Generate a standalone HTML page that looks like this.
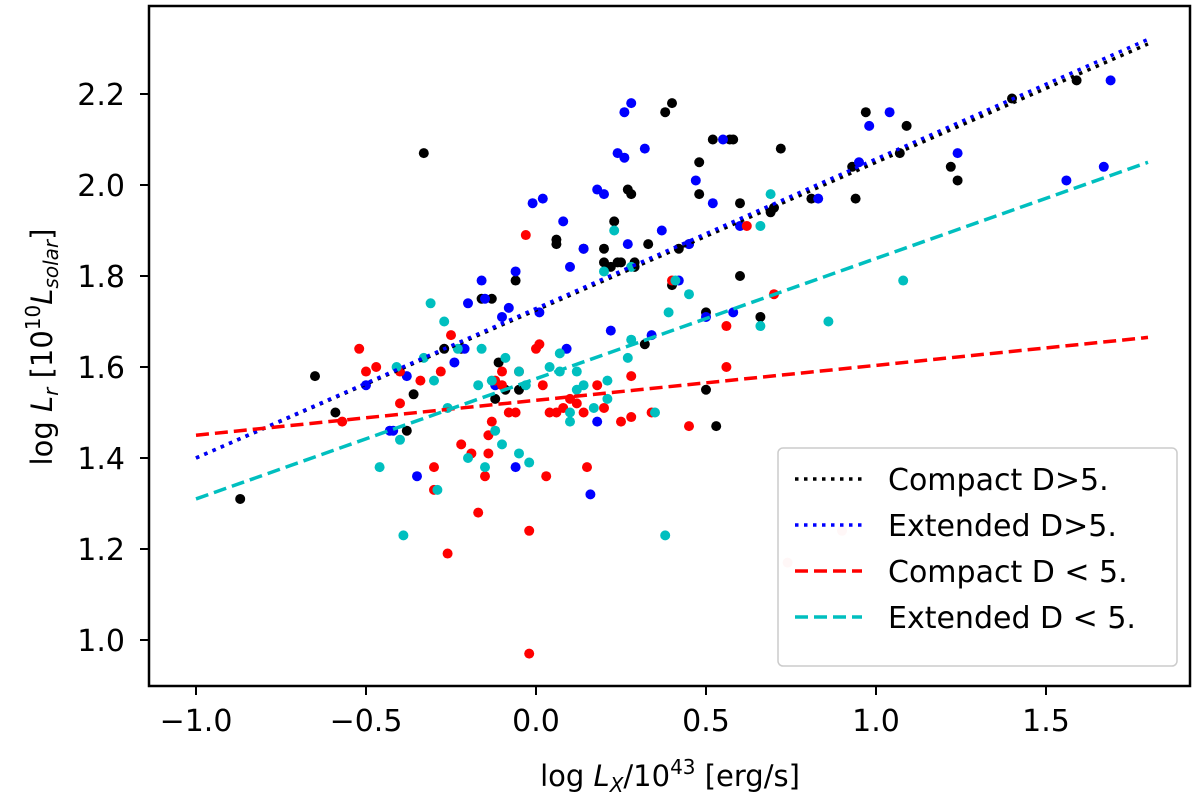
<!DOCTYPE html>
<html><head><meta charset="utf-8"><style>
body{margin:0;background:#fff;}
svg text{font-family:"DejaVu Sans","Liberation Sans",sans-serif;fill:#000;}
</style></head><body>
<svg id="chart" width="1200" height="795" xmlns="http://www.w3.org/2000/svg">
<g id="marks"></g>
<g id="axes"></g>
</svg>
<script>
const xTicks=[-1.0,-0.5,0.0,0.5,1.0,1.5];
const xTickLabels=["\u22121.0","\u22120.5","0.0","0.5","1.0","1.5"];
const yTicks=[1.0,1.2,1.4,1.6,1.8,2.0,2.2];
const yTickLabels=["1.0","1.2","1.4","1.6","1.8","2.0","2.2"];
const blackPts=[[-0.87,1.31],[-0.65,1.58],[-0.59,1.50],[-0.33,2.07],[-0.38,1.46],[-0.36,1.54],[-0.27,1.64],[-0.22,1.64],[-0.16,1.75],[-0.13,1.75],[-0.12,1.53],[-0.11,1.61],[-0.09,1.55],[-0.06,1.79],[-0.05,1.55],[0.06,1.88],[0.06,1.87],[0.14,1.86],[0.2,1.86],[0.2,1.83],[0.22,1.82],[0.23,1.92],[0.24,1.83],[0.25,1.83],[0.27,1.99],[0.28,1.98],[0.29,1.83],[0.29,1.82],[0.32,1.65],[0.33,1.87],[0.38,2.16],[0.4,2.18],[0.4,1.78],[0.42,1.86],[0.45,1.87],[0.48,1.98],[0.48,2.05],[0.52,2.10],[0.5,1.72],[0.53,1.47],[0.5,1.55],[0.57,2.10],[0.58,2.10],[0.6,1.96],[0.6,1.80],[0.66,1.71],[0.69,1.94],[0.72,2.08],[0.81,1.97],[0.93,2.04],[0.94,1.97],[0.97,2.16],[1.07,2.07],[1.09,2.13],[1.22,2.04],[1.24,2.01],[1.4,2.19],[1.59,2.23],[0.7,1.95]];
const bluePts=[[-0.5,1.56],[-0.43,1.46],[-0.42,1.46],[-0.38,1.58],[-0.35,1.36],[-0.24,1.61],[-0.21,1.64],[-0.16,1.79],[-0.2,1.74],[-0.15,1.75],[-0.1,1.71],[-0.08,1.73],[-0.06,1.81],[-0.06,1.38],[-0.01,1.96],[0.01,1.72],[0.02,1.97],[0.08,1.92],[0.09,1.64],[0.1,1.82],[0.14,1.86],[0.16,1.32],[0.18,1.99],[0.2,1.98],[0.22,1.68],[0.24,2.07],[0.26,2.16],[0.27,1.87],[0.28,2.18],[0.26,2.06],[0.32,2.08],[0.34,1.67],[0.37,1.90],[0.42,1.79],[0.45,1.87],[0.47,2.01],[0.5,1.71],[0.52,1.96],[0.55,2.10],[0.58,1.72],[0.6,1.91],[0.83,1.97],[0.95,2.05],[0.98,2.13],[1.04,2.16],[1.24,2.07],[1.56,2.01],[1.67,2.04],[1.69,2.23],[-0.12,1.56],[0.18,1.48]];
const redPts=[[-0.57,1.48],[-0.52,1.64],[-0.5,1.59],[-0.47,1.60],[-0.4,1.59],[-0.4,1.52],[-0.3,1.33],[-0.3,1.38],[-0.28,1.59],[-0.26,1.19],[-0.22,1.43],[-0.19,1.41],[-0.17,1.28],[-0.15,1.36],[-0.14,1.41],[-0.14,1.45],[-0.13,1.48],[-0.12,1.57],[-0.1,1.56],[-0.1,1.59],[-0.08,1.50],[-0.06,1.50],[-0.05,1.59],[-0.03,1.89],[-0.02,1.24],[-0.02,0.97],[0.0,1.64],[0.01,1.65],[0.02,1.56],[0.03,1.36],[0.04,1.50],[0.06,1.50],[0.08,1.51],[0.1,1.53],[0.12,1.52],[0.14,1.50],[0.15,1.38],[0.18,1.56],[0.2,1.51],[0.25,1.48],[0.28,1.58],[0.28,1.49],[0.34,1.50],[0.45,1.47],[0.56,1.69],[0.56,1.60],[0.62,1.91],[0.7,1.76],[0.4,1.79],[-0.25,1.67],[-0.34,1.57]];
const cyanPts=[[-0.46,1.38],[-0.41,1.60],[-0.4,1.44],[-0.39,1.23],[-0.33,1.62],[-0.31,1.74],[-0.3,1.57],[-0.29,1.33],[-0.27,1.70],[-0.26,1.51],[-0.23,1.64],[-0.2,1.40],[-0.17,1.56],[-0.16,1.64],[-0.15,1.38],[-0.13,1.57],[-0.12,1.46],[-0.1,1.43],[-0.09,1.62],[-0.05,1.41],[-0.05,1.59],[-0.03,1.56],[-0.02,1.39],[0.04,1.60],[0.07,1.59],[0.1,1.50],[0.1,1.48],[0.12,1.55],[0.12,1.59],[0.14,1.56],[0.17,1.51],[0.21,1.57],[0.21,1.53],[0.23,1.90],[0.27,1.62],[0.28,1.82],[0.35,1.50],[0.38,1.23],[0.39,1.72],[0.41,1.79],[0.45,1.76],[0.66,1.69],[0.66,1.91],[0.69,1.98],[0.86,1.70],[1.08,1.79],[0.2,1.81],[0.07,1.63],[0.28,1.66]];
const fadedPts=[[0.74,1.17],[0.9,1.24]];
const fitX=[-1.0,1.8];
const fitBlack=[1.40,2.31];
const fitBlue=[1.40,2.32];
const fitRed=[1.45,1.665];
const fitCyan=[1.31,2.05];

const X0=149,X1=1190,Y0=6,Y1=686;
const sx=v=>536+(v-0)*340;
const sy=v=>94+(2.2-v)*455;
const NS="http://www.w3.org/2000/svg";
const marks=document.getElementById('marks'),axes=document.getElementById('axes');
function mk(tag,attrs,parent){const e=document.createElementNS(NS,tag);for(const k in attrs)e.setAttribute(k,attrs[k]);parent.appendChild(e);return e;}

function drawPts(pts,color,name){
  pts.forEach(p=>{
    const c=mk('circle',{cx:sx(p[0]),cy:sy(p[1]),r:5,fill:color},marks);
    
    
  });
}
drawPts(fadedPts,'#ffc8c8','point-faded');
drawPts(blackPts,'#000','point-compact-d-gt5');
drawPts(bluePts,'#0000ff','point-extended-d-gt5');
drawPts(redPts,'#ff0000','point-compact-d-lt5');
drawPts(cyanPts,'#00bfbf','point-extended-d-lt5');

function fit(ys,color,dash,name){
  const l=mk('line',{x1:sx(fitX[0]),y1:sy(ys[0]),x2:sx(fitX[1]),y2:sy(ys[1]),stroke:color,'stroke-width':3.5,'stroke-dasharray':dash},marks);
  
  
}
fit(fitBlack,'#000','3.5 5.5','fit-compact-d-gt5');
fit(fitBlue,'#0000ff','3.5 5.5','fit-extended-d-gt5');
fit(fitRed,'#ff0000','13 6','fit-compact-d-lt5');
fit(fitCyan,'#00bfbf','13 6','fit-extended-d-lt5');

const frame=mk('rect',{x:X0,y:Y0,width:X1-X0,height:Y1-Y0,fill:'none',stroke:'#000','stroke-width':2.5},axes);



xTicks.forEach((v,i)=>{
  mk('line',{x1:sx(v),x2:sx(v),y1:Y1,y2:Y1+9,stroke:'#000','stroke-width':2},axes);
  const t=mk('text',{x:sx(v),y:Y1+45,'font-size':30,'text-anchor':'middle'},axes);
  t.textContent=xTickLabels[i];
  
  
});
yTicks.forEach((v,i)=>{
  mk('line',{x1:X0-9,x2:X0,y1:sy(v),y2:sy(v),stroke:'#000','stroke-width':2},axes);
  const t=mk('text',{x:X0-24,y:sy(v)+11,'font-size':30,'text-anchor':'end'},axes);
  t.textContent=yTickLabels[i];
  
  
});
</script>
<svg style="position:absolute;left:0;top:0" width="1200" height="795" xmlns="http://www.w3.org/2000/svg">
<text x="670" y="786" font-size="29" text-anchor="middle" font-family="DejaVu Sans, Liberation Sans, sans-serif">log <tspan font-style="italic">L</tspan><tspan font-style="italic" font-size="20" dy="6">X</tspan><tspan dy="-6">/10</tspan><tspan font-size="20" dy="-12">43</tspan><tspan dy="12"> [erg/s]</tspan></text>
<text transform="translate(52,347) rotate(-90)" font-size="29" text-anchor="middle" font-family="DejaVu Sans, Liberation Sans, sans-serif">log <tspan font-style="italic">L</tspan><tspan font-style="italic" font-size="20" dy="6">r</tspan><tspan dy="-6"> [10</tspan><tspan font-size="20" dy="-12">10</tspan><tspan dy="12" font-style="italic">L</tspan><tspan font-style="italic" font-size="20" dy="6">solar</tspan><tspan dy="-6">]</tspan></text>
<g font-family="DejaVu Sans, Liberation Sans, sans-serif" font-size="30">
<rect x="778" y="448" width="399" height="218" rx="5" fill="#fff" fill-opacity="0.85" stroke="#ccc" stroke-width="1.5"/>
<g><line x1="795" y1="479" x2="862" y2="479" stroke="#000" stroke-width="3.5" stroke-dasharray="3.5 5.5"/><text x="888" y="490">Compact D&gt;5.</text></g>
<g><line x1="795" y1="525" x2="862" y2="525" stroke="#0000ff" stroke-width="3.5" stroke-dasharray="3.5 5.5"/><text x="888" y="536">Extended D&gt;5.</text></g>
<g><line x1="795" y1="571" x2="862" y2="571" stroke="#ff0000" stroke-width="3.5" stroke-dasharray="13 6"/><text x="888" y="582">Compact D &lt; 5.</text></g>
<g><line x1="795" y1="617" x2="862" y2="617" stroke="#00bfbf" stroke-width="3.5" stroke-dasharray="13 6"/><text x="888" y="628">Extended D &lt; 5.</text></g>
</g>
</svg>
</body></html>
